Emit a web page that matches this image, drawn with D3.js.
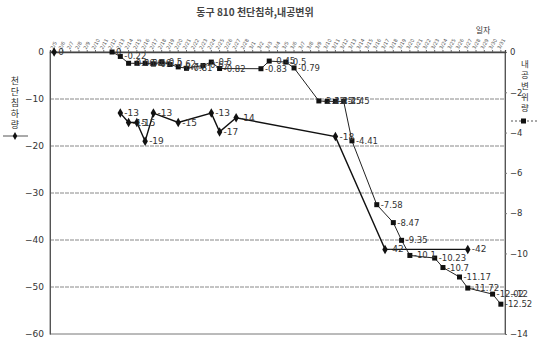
<!DOCTYPE html>
<html>
<head>
<meta charset="utf-8">
<script src="https://cdn.jsdelivr.net/npm/d3@7"></script>
<style>
  body { margin: 0; background: #fff; }
  svg { display: block; font-family: "Noto Sans CJK KR", "DejaVu Sans", sans-serif; }
</style>
</head>
<body>
<svg id="chart" width="537" height="343"></svg>
<script>
// categories: dates 2/5 .. 3/31
const dates = [
  "2/5","2/6","2/7","2/8","2/9","2/10","2/11","2/12","2/13","2/14","2/15","2/16",
  "2/17","2/18","2/19","2/20","2/21","2/22","2/23","2/24","2/25","2/26","2/27","2/28",
  "3/1","3/2","3/3","3/4","3/5","3/6","3/7","3/8","3/9","3/10","3/11","3/12","3/13",
  "3/14","3/15","3/16","3/17","3/18","3/19","3/20","3/21","3/22","3/23","3/24","3/25",
  "3/26","3/27","3/28","3/29","3/30","3/31"
];

// 천단침하 (left axis) : [date, value]; null = break in the line
const crownSettlement = [
  ["2/5", 0], ["2/6", null], ["2/13", -13], ["2/14", -15], ["2/15", -15], ["2/16", -19],
  ["2/17", -13], ["2/20", -15], ["2/24", -13], ["2/25", -17], ["2/27", -14],
  ["3/11", -18], ["3/17", -42], ["3/27", -42]
];

// 내공변위 (right axis) : [date, value]
const convergence = [
  ["2/12", 0], ["2/13", -0.22], ["2/14", -0.56], ["2/15", -0.56], ["2/16", -0.56],
  ["2/17", -0.6], ["2/18", -0.5], ["2/19", -0.62], ["2/20", -0.74], ["2/21", -0.81],
  ["2/23", -0.67], ["2/24", -0.5], ["2/25", -0.82], ["3/2", -0.83], ["3/3", -0.45],
  ["3/5", -0.5], ["3/6", -0.79], ["3/9", -2.43], ["3/10", -2.45], ["3/11", -2.45],
  ["3/12", -2.45], ["3/13", -4.41], ["3/16", -7.58], ["3/18", -8.47], ["3/19", -9.35],
  ["3/20", -10.1], ["3/23", -10.23], ["3/24", -10.7], ["3/26", -11.17], ["3/27", -11.72],
  ["3/30", -12.02], ["3/31", -12.52]
];

const leftTicks = [0, -10, -20, -30, -40, -50, -60];
const rightTicks = [0, -2, -4, -6, -8, -10, -12, -14];

const svg = d3.select("#chart");
const plotL = 50, plotR = 505, plotT = 52, plotB = 334;
const ink = "#333";

const x = d3.scaleBand().domain(dates).range([plotL, plotR]);
const cx = d => x(d) + x.bandwidth() / 2;
const yL = d3.scaleLinear().domain([-60, 0]).range([plotB, plotT]);
const yR = d3.scaleLinear().domain([-14, 0]).range([plotB, plotT]);

// title
svg.append("text")
  .attr("x", 255).attr("y", 16)
  .attr("text-anchor", "middle")
  .attr("font-size", 10).attr("font-weight", "bold")
  .attr("fill", "#444")
  .text("동구 810 천단침하,내공변위");

svg.append("text")
  .attr("x", 483).attr("y", 33)
  .attr("text-anchor", "middle")
  .attr("font-size", 8).attr("fill", ink)
  .text("일자");

// gridlines
svg.append("g")
  .selectAll("line")
  .data(leftTicks.filter(t => t !== 0 && t !== -60))
  .join("line")
    .attr("x1", plotL).attr("x2", plotR)
    .attr("y1", d => yL(d)).attr("y2", d => yL(d))
    .attr("stroke", "#888").attr("stroke-width", 1)
    .attr("stroke-dasharray", "4,1");

// frame
svg.append("rect")
  .attr("x", plotL).attr("y", plotT)
  .attr("width", plotR - plotL).attr("height", plotB - plotT)
  .attr("fill", "none").attr("stroke", "#777").attr("stroke-width", 1);

// left axis
const gL = svg.append("g")
  .attr("transform", `translate(${plotL},0)`)
  .call(d3.axisLeft(yL).tickValues(leftTicks).tickSize(0).tickPadding(6));
gL.select(".domain").attr("stroke", "#555");
gL.selectAll("text").attr("font-size", 9).attr("fill", ink)
  .attr("font-family", "DejaVu Sans, sans-serif");

// right axis
const gR = svg.append("g")
  .attr("transform", `translate(${plotR},0)`)
  .call(d3.axisRight(yR).tickValues(rightTicks).tickSize(2).tickPadding(3));
gR.select(".domain").attr("stroke", "#555");
gR.selectAll("line").attr("stroke", "#777");
gR.selectAll("text").attr("font-size", 8.5).attr("fill", ink)
  .attr("font-family", "DejaVu Sans, sans-serif");

// top category axis (date labels, rotated)
const gT = svg.append("g")
  .attr("transform", `translate(0,${plotT})`)
  .call(d3.axisTop(x).tickSize(2).tickPadding(2));
gT.select(".domain").attr("stroke", "#444").attr("stroke-width", 1.3);
gT.selectAll("line").attr("stroke", "#666");
gT.selectAll("text")
  .attr("font-size", 5).attr("fill", "#555")
  .attr("font-family", "DejaVu Sans, sans-serif")
  .attr("text-anchor", "start")
  .attr("transform", "rotate(-60)")
  .attr("dx", "0.3em").attr("dy", "0.4em");

// vertical axis titles
const leftTitle = ["천", "단", "침", "하", "량"];
svg.append("g").selectAll("text").data(leftTitle).join("text")
  .attr("x", 15).attr("y", (d, i) => 84 + i * 11)
  .attr("text-anchor", "middle").attr("font-size", 9).attr("fill", ink)
  .text(d => d);
svg.append("line").attr("x1", 3).attr("x2", 28).attr("y1", 136).attr("y2", 136)
  .attr("stroke", "#555").attr("stroke-width", 1);
svg.append("path").attr("d", d3.symbol(d3.symbolDiamond, 18)())
  .attr("transform", "translate(15,136)").attr("fill", "#111");

const rightTitle = ["내", "공", "변", "위", "량"];
svg.append("g").selectAll("text").data(rightTitle).join("text")
  .attr("x", 525).attr("y", (d, i) => 67 + i * 11)
  .attr("text-anchor", "middle").attr("font-size", 8.5).attr("fill", ink)
  .text(d => d);
svg.append("line").attr("x1", 511).attr("x2", 537).attr("y1", 121).attr("y2", 121)
  .attr("stroke", "#555").attr("stroke-width", 1).attr("stroke-dasharray", "2,2");
svg.append("rect").attr("x", 521).attr("y", 118.5).attr("width", 5).attr("height", 5)
  .attr("fill", "#111");

// series lines
const lineL = d3.line().defined(d => d[1] != null).x(d => cx(d[0])).y(d => yL(d[1]));
const lineR = d3.line().x(d => cx(d[0])).y(d => yR(d[1]));
const crownPts = crownSettlement.filter(d => d[1] != null);

svg.append("path").datum(crownSettlement)
  .attr("d", lineL).attr("fill", "none")
  .attr("stroke", "#111").attr("stroke-width", 1.4);

svg.append("path").datum(convergence)
  .attr("d", lineR).attr("fill", "none")
  .attr("stroke", "#222").attr("stroke-width", 1);

// markers
svg.append("g").selectAll("path").data(crownPts).join("path")
  .attr("d", d3.symbol(d3.symbolDiamond, 26)())
  .attr("transform", d => `translate(${cx(d[0])},${yL(d[1])})`)
  .attr("fill", "#111");

svg.append("g").selectAll("rect").data(convergence).join("rect")
  .attr("x", d => cx(d[0]) - 2.5).attr("y", d => yR(d[1]) - 2.5)
  .attr("width", 5).attr("height", 5)
  .attr("fill", "#111");

// data labels
svg.append("g").selectAll("text").data(crownPts).join("text")
  .attr("x", d => cx(d[0]) + 4).attr("y", d => yL(d[1]) + 3)
  .attr("font-size", 9).attr("fill", ink)
  .attr("font-family", "DejaVu Sans, sans-serif")
  .text(d => d[1]);

svg.append("g").selectAll("text").data(convergence).join("text")
  .attr("x", d => cx(d[0]) + 4).attr("y", d => yR(d[1]) + 3)
  .attr("font-size", 8.5).attr("fill", ink)
  .attr("font-family", "DejaVu Sans, sans-serif")
  .text(d => d[1]);
</script>
</body>
</html>
